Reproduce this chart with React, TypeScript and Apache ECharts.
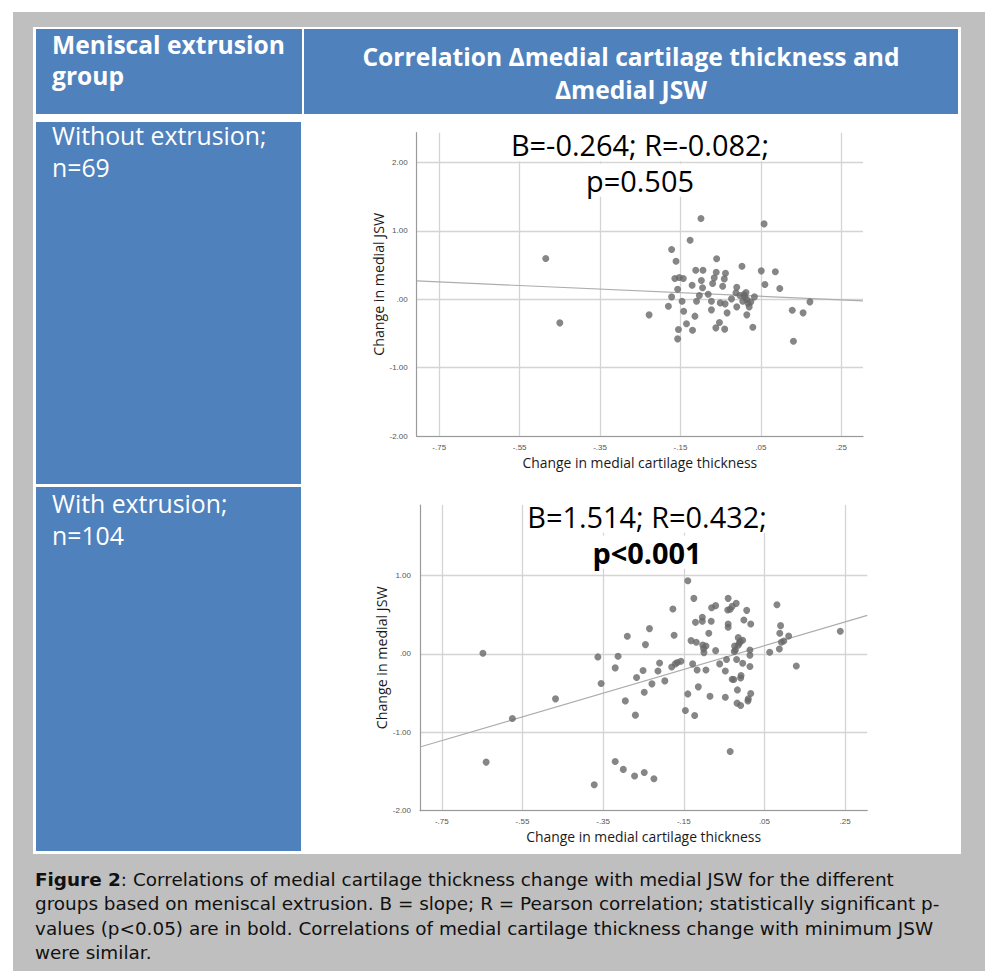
import React, { useEffect, useRef } from 'react';
import * as echarts from 'echarts';

// ---------- texts ----------
const headerLeft = ['Meniscal extrusion', 'group'];
const headerRight = ['Correlation Δmedial cartilage thickness and', 'Δmedial JSW'];
const groupWithout = ['Without extrusion;', 'n=69'];
const groupWith = ['With extrusion;', 'n=104'];
const statsWithout = ['B=-0.264; R=-0.082;', 'p=0.505'];
const statsWith = ['B=1.514; R=0.432;', 'p<0.001'];
const xTitle = 'Change in medial cartilage thickness';
const yTitle = 'Change in medial JSW';
const captionBold = 'Figure 2';
const captionLines = [
  ': Correlations of medial cartilage thickness change with medial JSW for the different',
  'groups based on meniscal extrusion. B = slope; R = Pearson correlation; statistically significant p-',
  'values (p<0.05) are in bold. Correlations of medial cartilage thickness change with minimum JSW',
  'were similar.',
];

// ---------- axes ----------
const xTicks = [-0.75, -0.55, -0.35, -0.15, 0.05, 0.25];
const yTicks = [-2, -1, 0, 1, 2];
const xRange1 = [-0.806, 0.304];
const yRange1 = [-2, 2.434];
const xRange2 = [-0.804, 0.305];
const yRange2 = [-2, 1.9];

// ---------- fit lines ----------
const slopeWithout = -0.264;
const interceptWithout = 0.055;
const slopeWith = 1.514;
const interceptWith = 0.03;

// ---------- data: [change in cartilage thickness, change in medial JSW] ----------
const withoutExtrusion: [number, number][] = [
  [-0.485, 0.594], [-0.45, -0.346], [-0.228, -0.229], [-0.172, 0.726], [-0.161, 0.555],
  [-0.18, -0.102], [-0.172, 0.034], [-0.164, 0.302], [-0.153, 0.317], [-0.143, 0.302],
  [-0.157, 0.146], [-0.146, -0.029], [-0.142, -0.175], [-0.155, -0.443], [-0.157, -0.58],
  [-0.135, -0.36], [-0.126, 0.862], [-0.121, 0.205], [-0.12, -0.453], [-0.114, -0.248],
  [-0.112, 0.424], [-0.11, -0.029], [-0.103, 0.054], [-0.099, 1.179], [-0.098, 0.273],
  [-0.094, 0.424], [-0.095, 0.166], [-0.081, 0.073], [-0.073, -0.029], [-0.073, -0.156],
  [-0.07, 0.229], [-0.066, 0.312], [-0.061, 0.395], [-0.06, 0.59], [-0.062, -0.419],
  [-0.053, -0.341], [-0.051, -0.054], [-0.045, 0.19], [-0.041, 0.297], [-0.038, 0.38],
  [-0.04, -0.438], [-0.039, -0.068], [-0.034, -0.2], [-0.023, 0.005], [-0.01, 0.175],
  [-0.012, 0.093], [-0.01, -0.112], [0.003, 0.482], [-0.002, 0.054], [0.005, -0.029],
  [0.008, 0.068], [0.013, 0.097], [0.015, -0.005], [0.015, -0.229], [0.021, -0.112],
  [0.025, -0.039], [0.03, -0.409], [0.034, 0.034], [0.051, 0.414], [0.058, 1.101],
  [0.06, 0.214], [0.086, 0.4], [0.097, 0.156], [0.128, -0.161], [0.131, -0.614],
  [0.155, -0.2], [0.172, -0.039], [0.01, 0.035], [0.018, -0.06],
];

const withExtrusion: [number, number][] = [
  [-0.648, 0.008], [-0.64, -1.38], [-0.575, -0.824], [-0.468, -0.573], [-0.372, -1.669],
  [-0.363, -0.038], [-0.355, -0.378], [-0.32, -0.178], [-0.32, -1.372], [-0.313, -0.03],
  [-0.3, -1.473], [-0.295, -0.599], [-0.29, 0.225], [-0.272, -1.558], [-0.27, -0.781],
  [-0.267, -0.301], [-0.251, -0.212], [-0.248, -1.512], [-0.248, -0.488], [-0.245, 0.119],
  [-0.235, 0.323], [-0.229, -0.382], [-0.224, -1.592], [-0.214, -0.217], [-0.21, -0.115],
  [-0.197, -0.344], [-0.18, -0.166], [-0.177, 0.573], [-0.174, 0.238], [-0.171, -0.127],
  [-0.166, -0.11], [-0.157, -0.093], [-0.146, -0.722], [-0.14, 0.934], [-0.14, -0.51],
  [-0.132, 0.17], [-0.128, -0.127], [-0.125, 0.709], [-0.123, -0.786], [-0.121, 0.403],
  [-0.119, 0.149], [-0.117, -0.204], [-0.114, -0.42], [-0.104, 0.467], [-0.104, 0.416],
  [-0.103, 0.115], [-0.101, 0.068], [-0.1, 0.017], [-0.095, 0.102], [-0.095, -0.204],
  [-0.088, 0.263], [-0.085, -0.539], [-0.082, 0.416], [-0.081, 0.59], [-0.071, 0.616],
  [-0.071, 0.042], [-0.061, -0.127], [-0.047, -0.552], [-0.047, -0.217], [-0.044, -0.072],
  [-0.04, 0.709], [-0.041, 0.561], [-0.04, 0.382], [-0.04, 0.34], [-0.035, -1.244],
  [-0.035, 0.569], [-0.03, 0.607], [-0.03, -0.323], [-0.026, -0.327], [-0.025, 0.03],
  [-0.024, 0.102], [-0.02, 0.645], [-0.019, -0.072], [-0.017, -0.459], [-0.018, -0.628],
  [-0.015, 0.208], [-0.015, 0.11], [-0.012, 0.14], [-0.009, -0.306], [-0.009, -0.658],
  [-0.008, -0.276], [-0.004, 0.174], [-0.004, -0.119], [-0.001, 0.433], [0.006, 0.556],
  [0.009, -0.599], [0.01, -0.573], [0.014, -0.161], [0.014, 0.051], [0.014, -0.017],
  [0.016, 0.382], [0.016, -0.505], [0.063, 0.021], [0.081, 0.628], [0.087, 0.064],
  [0.088, 0.263], [0.09, 0.361], [0.092, 0.149], [0.098, 0.166], [0.11, 0.229],
  [0.129, -0.153], [0.238, 0.289], [-0.01, 0.161], [-0.022, 0.051],
];

const FONT = '"Open Sans", "Noto Sans", sans-serif';
const CAP_FONT = '"DejaVu Sans", "Open Sans", sans-serif';
const BLUE = '#4F81BD';

function txt(text: string, x: number, baseline: number, size: number, opts: any = {}) {
  return {
    type: 'text',
    x,
    y: baseline - 0.37 * size,
    silent: true,
    z: 100,
    style: {
      text,
      fontSize: size,
      fontFamily: opts.family || FONT,
      fontWeight: opts.bold ? 'bold' : 'normal',
      fill: opts.fill || '#000',
      align: opts.align || 'left',
      textAlign: opts.align || 'left',
      verticalAlign: 'middle',
      textVerticalAlign: 'middle',
      lineHeight: opts.lineHeight,
      backgroundColor: opts.bg,
      rich: opts.rich,
    },
  };
}

const xFmt = (v: number) => v.toFixed(2).replace('0.', '.');
const yFmt = (v: number) => (v === 0 ? '.00' : v.toFixed(2));

function axes(idx: number, xr: number[], yr: number[]) {
  const split = { show: true, lineStyle: { color: '#d4d4d4', width: 1.3 } };
  const axisLine = { show: true, onZero: false, lineStyle: { color: '#9a9a9a', width: 1.2 } };
  return {
    x: {
      type: 'value',
      gridIndex: idx,
      min: xr[0],
      max: xr[1],
      name: xTitle,
      nameLocation: 'middle',
      nameGap: 19,
      nameTextStyle: { fontFamily: FONT, fontSize: 13.9, color: '#1a1a1a' },
      axisLine,
      axisTick: { show: false, customValues: xTicks },
      axisLabel: {
        customValues: xTicks,
        formatter: xFmt,
        fontSize: 8,
        color: '#555',
        fontFamily: 'Liberation Sans, Arial, sans-serif',
        margin: 7,
      },
      splitLine: split,
    },
    y: {
      type: 'value',
      gridIndex: idx,
      min: yr[0],
      max: yr[1],
      name: yTitle,
      nameLocation: 'middle',
      nameGap: 28,
      nameRotate: 90,
      nameTextStyle: { fontFamily: FONT, fontSize: 14.2, color: '#1a1a1a' },
      axisLine,
      axisTick: { show: false, customValues: yTicks },
      axisLabel: {
        customValues: yTicks,
        formatter: yFmt,
        fontSize: 8,
        color: '#555',
        fontFamily: 'Liberation Sans, Arial, sans-serif',
        margin: 9,
      },
      splitLine: split,
    },
  };
}

function fitLine(xr: number[], slope: number, intercept: number) {
  return [
    [xr[0], intercept + slope * xr[0]],
    [xr[1], intercept + slope * xr[1]],
  ];
}

export default function App() {
  const ref = useRef<HTMLDivElement>(null);
  useEffect(() => {
    document.body.style.margin = '0';
    const chart = echarts.init(ref.current!, undefined, { renderer: 'svg' });
    const a1 = axes(0, xRange1, yRange1);
    const a2 = axes(1, xRange2, yRange2);
    const capSize = 18.4;
    const capLH = 20;
    const capRich = {
      b: { fontWeight: 'bold', fontSize: capSize, fontFamily: CAP_FONT, fill: '#111', color: '#111', lineHeight: capLH },
      n: { fontWeight: 'normal', fontSize: capSize, fontFamily: CAP_FONT, fill: '#111', color: '#111', lineHeight: capLH },
    };
    const capBase = [886.3, 910.6, 934.9, 959.2];
    const hdr = 24.6;
    const row = 24.8;
    const stat = 28.9;

    const graphics: any[] = [
      { type: 'rect', silent: true, z: -10, shape: { x: 13, y: 12, width: 972, height: 959 }, style: { fill: '#BFBFBF' } },
      { type: 'rect', silent: true, z: -9, shape: { x: 33, y: 27, width: 928, height: 827 }, style: { fill: '#FFFFFF' } },
      { type: 'rect', silent: true, z: -8, shape: { x: 36, y: 29, width: 266, height: 85 }, style: { fill: BLUE } },
      { type: 'rect', silent: true, z: -8, shape: { x: 304, y: 29, width: 654, height: 85 }, style: { fill: BLUE } },
      { type: 'rect', silent: true, z: -8, shape: { x: 36, y: 122, width: 265, height: 362 }, style: { fill: BLUE } },
      { type: 'rect', silent: true, z: -8, shape: { x: 36, y: 487, width: 265, height: 364 }, style: { fill: BLUE } },
      txt(headerLeft[0], 52, 54, hdr, { bold: true, fill: '#fff', lineHeight: 28 }),
      txt(headerLeft[1], 52, 85, hdr, { bold: true, fill: '#fff', lineHeight: 28 }),
      txt(headerRight[0], 631, 66, hdr, { bold: true, fill: '#fff', align: 'center', lineHeight: 28 }),
      txt(headerRight[1], 631, 98.5, hdr, { bold: true, fill: '#fff', align: 'center', lineHeight: 28 }),
      txt(groupWithout[0], 52, 144, row, { fill: '#fff', lineHeight: 28 }),
      txt(groupWithout[1], 52, 176, row, { fill: '#fff', lineHeight: 28 }),
      txt(groupWith[0], 52, 512.5, row, { fill: '#fff', lineHeight: 28 }),
      txt(groupWith[1], 52, 544.5, row, { fill: '#fff', lineHeight: 28 }),
      txt(statsWithout[0], 640, 155.5, stat, { align: 'center', bg: '#fff', lineHeight: 33 }),
      txt(statsWithout[1], 640, 191, stat, { align: 'center', bg: '#fff', lineHeight: 33 }),
      txt(statsWith[0], 647, 527, stat, { align: 'center', bg: '#fff', lineHeight: 33 }),
      txt(statsWith[1], 647, 563, stat, { align: 'center', bold: true, bg: '#fff', lineHeight: 33 }),
      txt('{b|' + captionBold + '}{n|' + captionLines[0] + '}', 35, capBase[0], capSize, { rich: capRich, family: CAP_FONT, fill: '#111', lineHeight: capLH }),
      txt(captionLines[1], 35, capBase[1], capSize, { family: CAP_FONT, fill: '#111', lineHeight: capLH }),
      txt(captionLines[2], 35, capBase[2], capSize, { family: CAP_FONT, fill: '#111', lineHeight: capLH }),
      txt(captionLines[3], 35, capBase[3], capSize, { family: CAP_FONT, fill: '#111', lineHeight: capLH }),
    ];

    const scatterStyle = { color: '#686868' };
    const lineStyle = { color: '#adadad', width: 1.2 };

    chart.setOption({
      animation: false,
      backgroundColor: '#ffffff',
      grid: [
        { left: 416.7, top: 132.7, width: 446.3, height: 303.3 },
        { left: 420, top: 505, width: 447.3, height: 305.7 },
      ],
      xAxis: [a1.x, a2.x],
      yAxis: [a1.y, a2.y],
      graphic: { elements: graphics },
      series: [
        {
          name: 'Fit without extrusion',
          type: 'line',
          xAxisIndex: 0,
          yAxisIndex: 0,
          data: fitLine(xRange1, slopeWithout, interceptWithout),
          showSymbol: false,
          silent: true,
          lineStyle,
          z: 1,
        },
        {
          name: 'Without extrusion',
          type: 'scatter',
          xAxisIndex: 0,
          yAxisIndex: 0,
          data: withoutExtrusion,
          symbolSize: 7,
          itemStyle: scatterStyle,
          z: 2,
        },
        {
          name: 'Fit with extrusion',
          type: 'line',
          xAxisIndex: 1,
          yAxisIndex: 1,
          data: fitLine(xRange2, slopeWith, interceptWith),
          showSymbol: false,
          silent: true,
          lineStyle,
          z: 1,
        },
        {
          name: 'With extrusion',
          type: 'scatter',
          xAxisIndex: 1,
          yAxisIndex: 1,
          data: withExtrusion,
          symbolSize: 7,
          itemStyle: scatterStyle,
          z: 2,
        },
      ],
    });
    return () => chart.dispose();
  }, []);
  return (
    <div
      ref={ref}
      style={{ position: 'absolute', left: 0, top: 0, width: 993, height: 971 }}
    />
  );
}
